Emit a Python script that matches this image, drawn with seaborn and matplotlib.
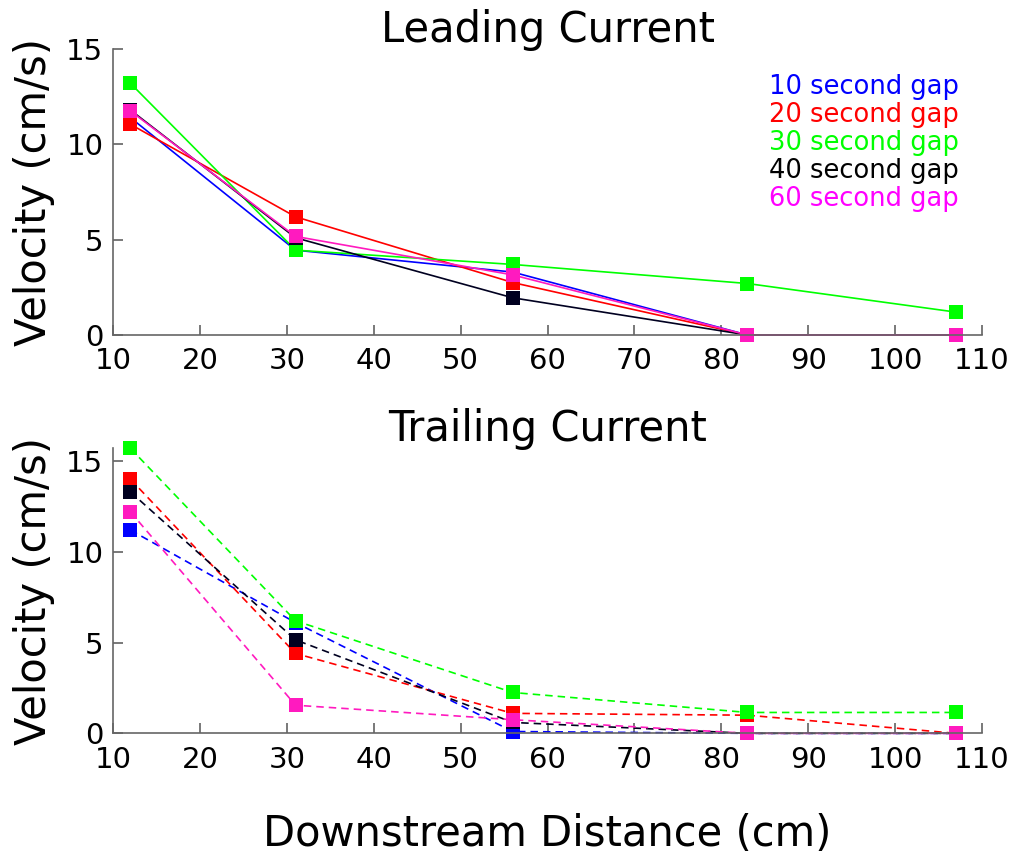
import matplotlib
matplotlib.use("Agg")
import matplotlib.pyplot as plt
import seaborn as sns
import pandas as pd

# ---- data ----
distance = [12, 31, 56, 83, 107]
gaps = ["10 second gap", "20 second gap", "30 second gap", "40 second gap", "60 second gap"]

leading = {
    "10 second gap": [11.4, 4.45, 3.3, 0.0, 0.0],
    "20 second gap": [11.05, 6.2, 2.75, 0.0, 0.0],
    "30 second gap": [13.2, 4.45, 3.7, 2.7, 1.2],
    "40 second gap": [11.8, 5.1, 1.95, 0.0, 0.0],
    "60 second gap": [11.75, 5.17, 3.15, 0.0, 0.0],
}
trailing = {
    "10 second gap": [11.2, 6.1, 0.1, 0.0, 0.0],
    "20 second gap": [14.0, 4.4, 1.1, 1.0, 0.0],
    "30 second gap": [15.7, 6.2, 2.25, 1.15, 1.15],
    "40 second gap": [13.3, 5.15, 0.6, 0.0, 0.0],
    "60 second gap": [12.2, 1.55, 0.75, 0.0, 0.0],
}

line_colors = ["#0000FF", "#FF0000", "#00FF00", "#000020", "#FF1ABF"]
text_colors = ["#0000FF", "#FF0000", "#00FF00", "#000000", "#FF00FF"]
xticks = [10, 20, 30, 40, 50, 60, 70, 80, 90, 100, 110]
yticks = [0, 5, 10, 15]


def to_long(d):
    rows = []
    for g in gaps:
        for x, v in zip(distance, d[g]):
            rows.append({"distance": x, "velocity": v, "gap": g})
    return pd.DataFrame(rows)


sns.set_theme(style="white")
plt.rcParams["font.family"] = ["DejaVu Sans"]

fig = plt.figure(figsize=(10.24, 8.55), dpi=100)
ax1 = fig.add_axes([0.1104, 0.6082, 0.8486, 0.3345])
ax2 = fig.add_axes([0.1104, 0.1423, 0.8486, 0.3333])

palette = dict(zip(gaps, line_colors))

for ax, d, ls, ylim, title in [
    (ax1, leading, "-", (0, 15), "Leading Current"),
    (ax2, trailing, (0, (4.5, 3)), (0, 15.7), "Trailing Current"),
]:
    df = to_long(d)
    sns.lineplot(data=df, x="distance", y="velocity", hue="gap", hue_order=gaps,
                 palette=palette, marker="s", markersize=10, markeredgewidth=0,
                 linewidth=1.2, linestyle=ls, legend=False, ax=ax, sort=False,
                 estimator=None, clip_on=False)
    ax.set_xlim(10, 110)
    ax.set_ylim(*ylim)
    ax.set_xticks(xticks)
    ax.set_yticks(yticks)
    for s in ["top", "right"]:
        ax.spines[s].set_visible(False)
    for s in ["left", "bottom"]:
        ax.spines[s].set_color("#666666")
        ax.spines[s].set_linewidth(1.2)
    ax.tick_params(axis="both", direction="in", length=7, width=1.1,
                   color="#555555", labelsize=21, labelcolor="black", pad=7,
                   bottom=True, left=True)
    ax.tick_params(axis="x", pad=9)
    ax.set_title(title, fontsize=30, pad=5, color="black")
    ax.set_ylabel("Velocity (cm/s)", fontsize=30, labelpad=8, color="black")
    ax.set_xlabel("")
    ax.grid(False)

ax2.set_xlabel("Downstream Distance (cm)", fontsize=30, labelpad=28, color="black")

for i, (g, c) in enumerate(zip(gaps, text_colors)):
    ax1.text(0.9735, 0.868 - i * 0.0979, g, color=c, fontsize=18.5,
             transform=ax1.transAxes, ha="right", va="center")

fig.savefig("out.png", dpi=100)
